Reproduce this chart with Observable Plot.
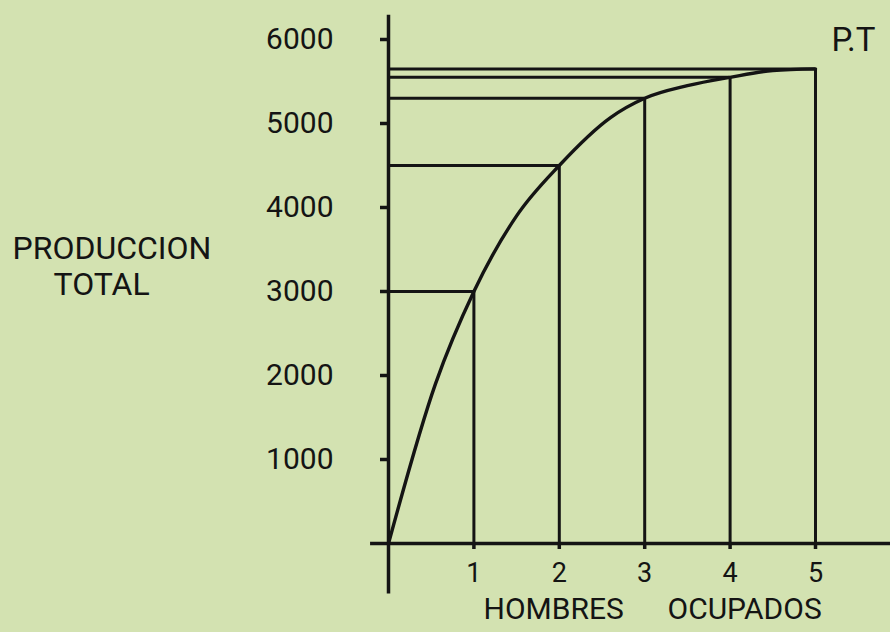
<!DOCTYPE html>
<html><head><meta charset="utf-8">
<script src="https://cdn.jsdelivr.net/npm/d3@7"></script>
<script src="https://cdn.jsdelivr.net/npm/@observablehq/plot@0.6"></script>
<style>
html,body{margin:0;padding:0;background:#d3e2b1;}
</style></head><body><div id="chart"></div>
<script>
// Points with drop lines (men employed -> total production)
const hombres = [1, 2, 3, 4, 5];
const produccion = [3000, 4500, 5300, 5550, 5650];
// Curve
const curveX = [0, 0.55, 1, 1.5, 2, 2.6, 3, 3.5, 4, 4.5, 5];
const curveY = [0, 1900, 3000, 3900, 4500, 5070, 5300, 5450, 5550, 5630, 5650];
const yTicks = [1000, 2000, 3000, 4000, 5000, 6000];
const xTicks = [1, 2, 3, 4, 5];
const yLabelLines = ["PRODUCCION", "TOTAL"];
const xLabelWords = ["HOMBRES", "OCUPADOS"];
const curveLabel = "P.T";

const points = hombres.map((h, i) => ({x: h, y: produccion[i]}));
const curve = curveX.map((x, i) => ({x, y: curveY[i]}));
const last = points[points.length - 1];

const ink = "#141414";
const font = "Roboto, 'DejaVu Sans', sans-serif";

const plot = Plot.plot({
  width: 890, height: 632,
  marginLeft: 388, marginRight: 75, marginTop: 39, marginBottom: 89,
  x: {domain: [0, 5]},
  y: {domain: [0, 6000]},
  style: {background: "#d3e2b1", color: ink, fontFamily: font, overflow: "visible"},
  marks: [
    Plot.ruleY([0], {x1: -0.21, x2: 5.95, stroke: ink, strokeWidth: 3.5}),
    Plot.ruleX([0], {y1: -600, y2: 6290, stroke: ink, strokeWidth: 3.5}),
    Plot.ruleY(points, {x1: 0, x2: "x", y: "y", stroke: ink, strokeWidth: 3}),
    Plot.ruleX(points, {x: "x", y1: 0, y2: "y", stroke: ink, strokeWidth: 3}),
    Plot.line(curve, {x: "x", y: "y", curve: "monotone-x", stroke: ink, strokeWidth: 3.4}),
    Plot.axisY({ticks: yTicks, tickSize: 8, tickPadding: 47, tickFormat: d => String(d), label: null,
      fontSize: 30, strokeWidth: 3.5, fill: ink}),
    Plot.axisX({ticks: xTicks, tickSize: 6, tickPadding: 13, tickFormat: d => String(d), label: null,
      fontSize: 27, strokeWidth: 3.5, fill: ink}),
    Plot.text([yLabelLines[0]], {frameAnchor: "left", textAnchor: "start", lineAnchor: "middle", dx: -376, dy: -43,
      fontSize: 32, fill: ink}),
    Plot.text([yLabelLines[1]], {frameAnchor: "left", textAnchor: "start", lineAnchor: "middle", dx: -335, dy: -7,
      fontSize: 32, fill: ink, style: "letter-spacing:6px"}),
    Plot.text([xLabelWords[0]], {frameAnchor: "bottom-left", textAnchor: "start", lineAnchor: "middle", dx: 95, dy: 66,
      fontSize: 30, fill: ink}),
    Plot.text([xLabelWords[1]], {frameAnchor: "bottom-left", textAnchor: "start", lineAnchor: "middle", dx: 279, dy: 66,
      fontSize: 30, fill: ink}),
    Plot.text([last], {x: "x", y: "y", text: () => curveLabel, dx: 38, dy: -28,
      fontSize: 33, fill: ink})
  ]
});
document.getElementById("chart").append(plot);
</script></body></html>
